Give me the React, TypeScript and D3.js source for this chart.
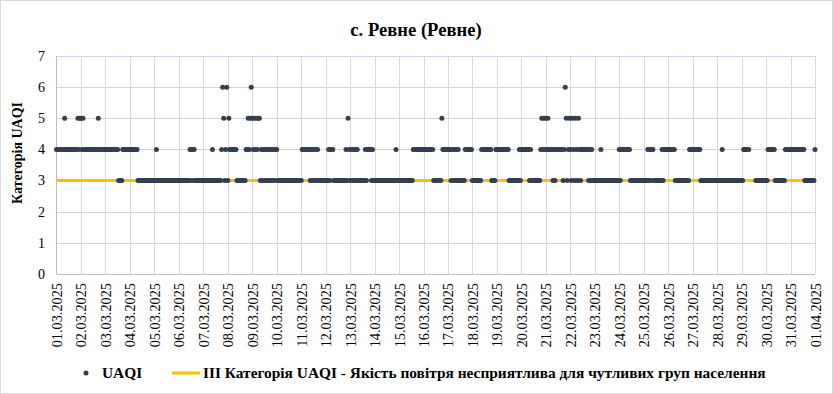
import { useRef, useEffect } from "react";
import * as d3 from "d3";

// Hourly UAQI category, one string per day (24 chars, "-" = no data)
const dayLabels = [
  "01.03.2025", "02.03.2025", "03.03.2025", "04.03.2025", "05.03.2025", "06.03.2025",
  "07.03.2025", "08.03.2025", "09.03.2025", "10.03.2025", "11.03.2025", "12.03.2025",
  "13.03.2025", "14.03.2025", "15.03.2025", "16.03.2025", "17.03.2025", "18.03.2025",
  "19.03.2025", "20.03.2025", "21.03.2025", "22.03.2025", "23.03.2025", "24.03.2025",
  "25.03.2025", "26.03.2025", "27.03.2025", "28.03.2025", "29.03.2025", "30.03.2025",
  "31.03.2025", "01.04.2025",
];

const hourlyByDay = [
  "444444445444444444444545",
  "545444444444444445444444",
  "444444444444433334444444",
  "444444443333333333333333",
  "334333333333333333333333",
  "333333333334434433333333",
  "333333333433333333465346",
  "354444444333333333445456",
  "545454553434343434343434",
  "433333333333333333333333",
  "344444444343434343333333",
  "333434443333333333334354",
  "343434343333333434444343",
  "333333333333333333333433",
  "333333333333334444444444",
  "444444444433333333544444",
  "444343434343333334444444",
  "333333333444444444433334",
  "444444444444333333333343",
  "444444443433333333345454",
  "545444434344444443465345",
  "435435435434444444343433",
  "333333433333333333333333",
  "434444444443333333333333",
  "333343434433333333434444",
  "444444433333333333333444",
  "444444443333333333333333",
  "333334333333333333333333",
  "33444444------3333333333",
  "334444444333333333344444",
  "444444444444443333333333",
];
const lastValue = [4]; // 01.04.2025 00:00

const thresholdValue = 3;
const yTicks = [0, 1, 2, 3, 4, 5, 6, 7];

const titleText = "с. Ревне (Ревне)";
const yTitle = "Категорія UAQI";
const seriesName = "UAQI";
const thresholdName = "ІІІ Категорія UAQI - Якість повітря несприятлива для чутливих груп населення";

const W = 833;
const H = 394;
const serif = "'Liberation Serif', 'Times New Roman', serif";
const dotColor = "#333f50";
const lineColor = "#ffc000";

export default function App() {
  const svgRef = useRef<SVGSVGElement>(null);

  useEffect(() => {
    if (!svgRef.current) return;
    const svg = d3.select(svgRef.current);
    svg.selectAll("*").remove();

    const t0 = Date.UTC(2025, 2, 1);
    const points: { t: Date; v: number }[] = [];
    hourlyByDay.forEach((s, d) => {
      s.split("").forEach((c, i) => {
        if (c !== "-") points.push({ t: new Date(t0 + (d * 24 + i) * 3600e3), v: +c });
      });
    });
    lastValue.forEach((v, i) =>
      points.push({ t: new Date(t0 + (hourlyByDay.length * 24 + i) * 3600e3), v })
    );

    const days = dayLabels.map((_, i) => new Date(t0 + i * 86400e3));
    const x = d3.scaleUtc()
      .domain([days[0], days[days.length - 1]])
      .range([56.5, 815]);
    const y = d3.scaleLinear().domain([0, 7]).range([274, 56]);

    // chart border
    svg.append("rect")
      .attr("x", 0.5).attr("y", 0.5)
      .attr("width", W - 1).attr("height", H - 1)
      .attr("fill", "#fff")
      .attr("stroke", "#d9d9d9");

    // horizontal grid
    svg.selectAll("line.hgrid")
      .data(yTicks.slice(1))
      .join("line")
      .attr("class", "hgrid")
      .attr("x1", x.range()[0]).attr("x2", x.range()[1])
      .attr("y1", (d) => Math.round(y(d)) + 0.5)
      .attr("y2", (d) => Math.round(y(d)) + 0.5)
      .attr("stroke", "#cbd8ec");

    // vertical grid (one per day)
    svg.selectAll("line.vgrid")
      .data(days.slice(1))
      .join("line")
      .attr("class", "vgrid")
      .attr("x1", (d) => Math.round(x(d)) + 0.5)
      .attr("x2", (d) => Math.round(x(d)) + 0.5)
      .attr("y1", y(7)).attr("y2", y(0))
      .attr("stroke", "#d9d9d9");

    // axes lines
    svg.append("line")
      .attr("x1", x.range()[0]).attr("x2", x.range()[1])
      .attr("y1", y(0) + 0.5).attr("y2", y(0) + 0.5)
      .attr("stroke", "#bfbfbf");
    svg.append("line")
      .attr("x1", x.range()[0]).attr("x2", x.range()[0])
      .attr("y1", y(7)).attr("y2", y(0))
      .attr("stroke", "#bfbfbf");

    // y tick labels
    svg.selectAll("text.ytick")
      .data(yTicks)
      .join("text")
      .attr("class", "ytick")
      .attr("x", 45)
      .attr("y", (d) => y(d))
      .attr("dy", "0.35em")
      .attr("text-anchor", "end")
      .attr("font-family", serif)
      .attr("font-size", "14px")
      .attr("fill", "#000")
      .text((d) => d);

    // x tick labels (rotated)
    svg.selectAll("text.xtick")
      .data(days)
      .join("text")
      .attr("class", "xtick")
      .attr("transform", (d) => `translate(${x(d) + 0.5},283) rotate(-90)`)
      .attr("dy", "0.35em")
      .attr("text-anchor", "end")
      .attr("font-family", serif)
      .attr("font-size", "14.3px")
      .attr("fill", "#000")
      .text((_, i) => dayLabels[i]);

    // threshold line
    svg.append("line")
      .attr("x1", x.range()[0]).attr("x2", x.range()[1])
      .attr("y1", y(thresholdValue)).attr("y2", y(thresholdValue))
      .attr("stroke", lineColor)
      .attr("stroke-width", 3);

    // UAQI dots
    svg.selectAll("circle.pt")
      .data(points)
      .join("circle")
      .attr("class", "pt")
      .attr("cx", (d) => x(d.t))
      .attr("cy", (d) => y(d.v))
      .attr("r", 2.5)
      .attr("fill", dotColor);

    // title
    svg.append("text")
      .attr("x", 416).attr("y", 36)
      .attr("text-anchor", "middle")
      .attr("font-family", serif)
      .attr("font-size", "18.6px")
      .attr("font-weight", "bold")
      .text(titleText);

    // y axis title
    svg.append("text")
      .attr("transform", `translate(22,${(y(0) + y(7)) / 2 - 12}) rotate(-90)`)
      .attr("text-anchor", "middle")
      .attr("font-family", serif)
      .attr("font-size", "14px")
      .attr("font-weight", "bold")
      .text(yTitle);

    // legend
    const ly = 373;
    svg.append("circle")
      .attr("cx", 86).attr("cy", ly).attr("r", 2.5)
      .attr("fill", dotColor);
    svg.append("text")
      .attr("x", 102).attr("y", ly).attr("dy", "0.35em")
      .attr("font-family", serif)
      .attr("font-size", "15.4px")
      .attr("font-weight", "bold")
      .text(seriesName);
    svg.append("line")
      .attr("x1", 172).attr("x2", 200)
      .attr("y1", ly).attr("y2", ly)
      .attr("stroke", lineColor)
      .attr("stroke-width", 3);
    svg.append("text")
      .attr("x", 203).attr("y", ly).attr("dy", "0.35em")
      .attr("font-family", serif)
      .attr("font-size", "15.4px")
      .attr("font-weight", "bold")
      .text(thresholdName);
  }, []);

  return (
    <div style={{ position: "absolute", left: 0, top: 0 }}>
      <svg ref={svgRef} width={W} height={H} style={{ display: "block" }} />
    </div>
  );
}
